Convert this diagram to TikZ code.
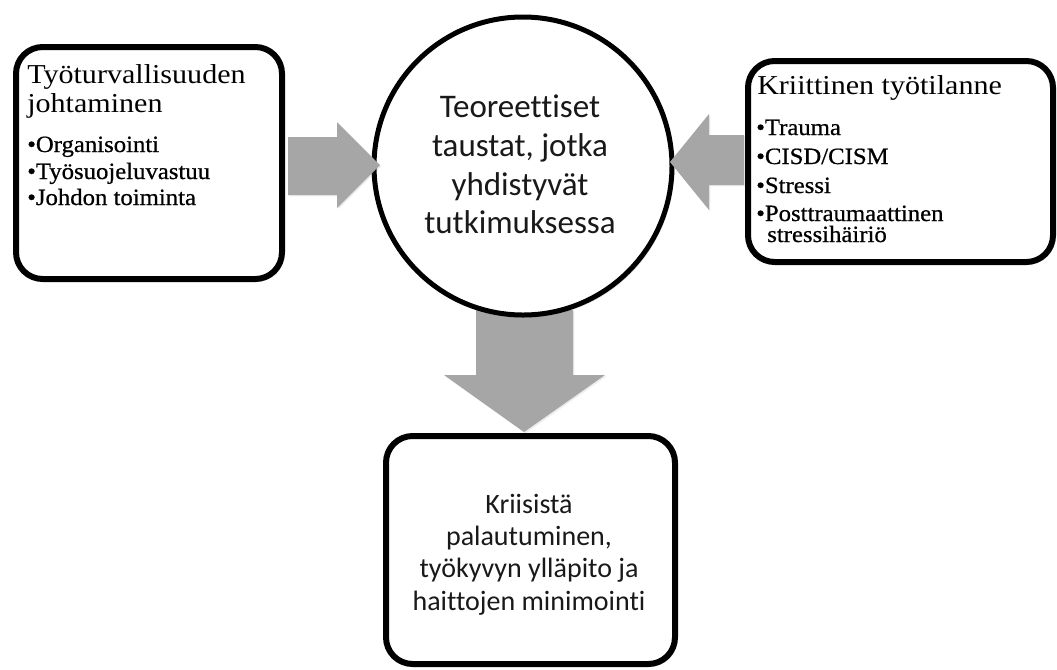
\documentclass[tikz,border=0pt]{standalone}
\usepackage{fontspec}
\setmainfont{Liberation Serif}
\newfontfamily\serifw[FakeStretch=1.1]{Liberation Serif}
\newfontfamily\serifb[FakeStretch=1.06,FakeBold=0.7]{Liberation Serif}
\newfontfamily\calfont[Ligatures=NoCommon]{Carlito}
\usetikzlibrary{shadows}
\definecolor{arrowgray}{RGB}{166,166,166}
\begin{document}
\begin{tikzpicture}[x=0.75pt,y=-0.75pt,
  boxstyle/.style={draw=black, line width=4.5pt, rounded corners=20pt, fill=white,
    inner sep=0pt, outer sep=0pt,
    drop shadow={shadow xshift=1.5pt, shadow yshift=-2pt, opacity=0.2, fill=black!70}},
  circstyle/.style={circle, draw=black, line width=3.75pt, fill=white, inner sep=0pt,
    outer sep=0pt, minimum size=223.5pt,
    drop shadow={shadow xshift=1.5pt, shadow yshift=-2pt, opacity=0.18, fill=black!70}},
  blockarrow/.style={fill=arrowgray, draw=none,
    drop shadow={shadow xshift=1pt, shadow yshift=-1pt, opacity=0.12, fill=black!60}},
  titletext/.style={anchor=base west, inner sep=0pt, font=\serifw\fontsize{20.5pt}{24pt}\selectfont},
  itemtext/.style={anchor=base west, inner sep=0pt, font=\serifb\fontsize{17.5pt}{20pt}\selectfont},
  circtext/.style={anchor=base, inner sep=0pt, font=\calfont\fontsize{24.75pt}{29pt}\selectfont, text=black!90},
  bottext/.style={anchor=base, inner sep=0pt, font=\calfont\fontsize{21pt}{24pt}\selectfont, text=black!90}
]
\useasboundingbox (0,0) rectangle (1057,669);

% down arrow (behind circle and bottom box)
\fill[blockarrow] (476,310) -- (573,310) -- (573,375) -- (605,375) -- (524,432)
  -- (444,375) -- (476,375) -- cycle;

% boxes
\node[boxstyle, minimum width=199.5pt, minimum height=174pt] (lbox) at (149,163) {};
\node[boxstyle, minimum width=228.75pt, minimum height=150.75pt] (rbox) at (900.5,161.5) {};
\node[boxstyle, minimum width=216.75pt, minimum height=171pt] (bbox) at (530.5,550) {};

% circle
\node[circstyle] (circ) at (523,166) {};

% side arrows
\fill[blockarrow] (288,137) -- (337,137) -- (337,122) -- (380,165) -- (337,208)
  -- (337,195) -- (288,195) -- cycle;
\fill[blockarrow] (744,135) -- (709,135) -- (709,114) -- (670,162) -- (709,210)
  -- (709,185) -- (744,185) -- cycle;

% left box text
\node[titletext] (lt1) at (27,83) {Työturvallisuuden};
\node[titletext] (lt2) at (27,112) {johtaminen};
\node[itemtext] (li1) at (27,152) {•Organisointi};
\node[itemtext] (li2) at (27,179) {•Työsuojeluvastuu};
\node[itemtext] (li3) at (27,205) {•Johdon toiminta};

% right box text
\node[titletext] (rt1) at (757,94) {Kriittinen työtilanne};
\node[itemtext] (ri1) at (756,135) {•Trauma};
\node[itemtext] (ri2) at (756,164) {•CISD/CISM};
\node[itemtext] (ri3) at (756,193) {•Stressi};
\node[itemtext] (ri4) at (756,221) {•Posttraumaattinen};
\node[itemtext] (ri5) at (767,242) {stressihäiriö};

% circle text
\node[circtext] (c1) at (520,117) {Teoreettiset};
\node[circtext] (c2) at (520,156) {taustat, jotka};
\node[circtext] (c3) at (520,195) {yhdistyvät};
\node[circtext] (c4) at (520,233) {tutkimuksessa};

% bottom box text
\node[bottext] (b1) at (529,513) {Kriisistä};
\node[bottext] (b2) at (529,545) {palautuminen,};
\node[bottext] (b3) at (529,577) {työkyvyn ylläpito ja};
\node[bottext] (b4) at (529,610) {haittojen minimointi};
\end{tikzpicture}
\end{document}
